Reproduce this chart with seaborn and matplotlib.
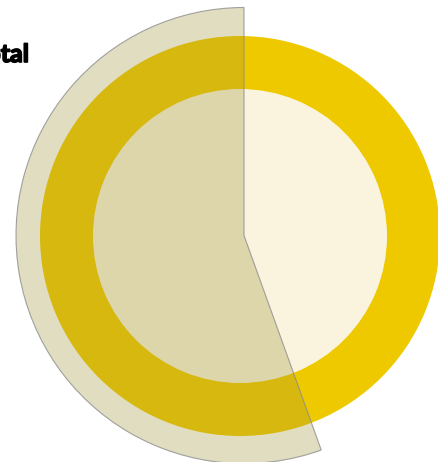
import matplotlib
matplotlib.use("Agg")
import matplotlib.pyplot as plt
import matplotlib.patheffects as pe
import seaborn as sns

# share of the total held by the highlighted slice (percent)
slice_labels = ["Highlighted", "Rest"]
slice_shares = [55.5, 44.5]
total_label = "Total"

ring_color = "#EFC900"
hole_color = "#FAF4DF"
overlay_color = (0.62, 0.57, 0.20, 0.30)

sns.set_theme(style="white")
plt.rcParams["font.family"] = ["Lato", "DejaVu Sans"]

W, H = 439, 462
fig = plt.figure(figsize=(W / 100, H / 100), dpi=100)
ax = fig.add_axes([0, 0, 1, 1])

# yellow ring and its light hole
ax.pie([sum(slice_shares)], colors=[ring_color], radius=200,
       center=(240, H - 236), startangle=90,
       wedgeprops=dict(linewidth=0, antialiased=True))
ax.pie([sum(slice_shares)], colors=[hole_color], radius=147,
       center=(240, H - 236), startangle=90,
       wedgeprops=dict(linewidth=0, antialiased=True))

# translucent slice laid over the ring
wedges, _ = ax.pie(slice_shares, labels=None,
                   colors=[overlay_color, (0, 0, 0, 0)], radius=228,
                   center=(244, H - 235.5), startangle=90, counterclock=True)
wedges[0].set_edgecolor((0.55, 0.55, 0.55, 0.8))
wedges[0].set_linewidth(0.8)
wedges[1].set_linewidth(0)

ax.text(29, H - 62, total_label, ha="right", va="baseline",
        fontsize=18, fontweight="bold", color="black",
        path_effects=[pe.withStroke(linewidth=1.2, foreground="black")])

ax.set_xlim(0, W)
ax.set_ylim(0, H)
ax.set_aspect("equal")
ax.axis("off")

fig.savefig("out.png", dpi=100)
